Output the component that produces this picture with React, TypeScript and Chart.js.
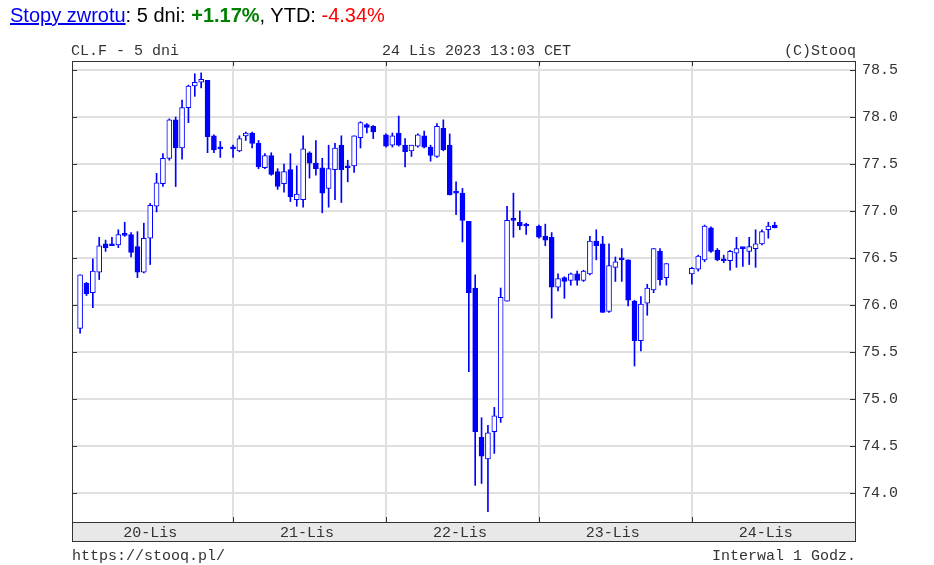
import React, { useEffect, useRef } from "react";
import { Chart, registerables } from "chart.js";

Chart.register(...registerables);

// hour index: 0 = 20-Lis 00:00 CET, 24 = 21-Lis 00:00, ...
const hours = [
  0, 1, 2, 3, 4, 5, 6, 7, 8, 9, 10, 11, 12, 13, 14, 15, 16, 17, 18, 19, 20, 21, 22,
  24, 25, 26, 27, 28, 29, 30, 31, 32, 33, 34, 35, 36, 37, 38, 39, 40, 41, 42, 43, 44, 45, 46,
  48, 49, 50, 51, 52, 53, 54, 55, 56, 57, 58, 59, 60, 61, 62, 63, 64, 65, 66, 67, 68, 69, 70,
  72, 73, 74, 75, 76, 77, 78, 79, 80, 81, 82, 83, 84, 85, 86, 87, 88, 89, 90, 91, 92,
  96, 97, 98, 99, 100, 101, 102, 103, 104, 105, 106, 107, 108, 109,
];

const opens = [
  75.75, 76.23, 76.13, 76.35, 76.65, 76.63, 76.64, 76.76, 76.75, 76.62, 76.35, 76.71, 77.05, 77.29, 77.56, 77.97, 77.67, 78.10, 78.33, 78.37, 78.39, 77.80, 77.66,
  77.66, 77.64, 77.80, 77.83, 77.72, 77.46, 77.59, 77.42, 77.29, 77.44, 77.12, 77.12, 77.62, 77.51, 77.46, 77.24, 77.44, 77.70, 77.48, 77.48, 77.78, 77.92, 77.90,
  77.81, 77.70, 77.83, 77.70, 77.64, 77.69, 77.80, 77.68, 77.58, 77.88, 77.70, 77.19, 77.19, 76.89, 76.18, 74.59, 74.36, 74.65, 74.80, 76.04, 76.90, 76.88, 76.84,
  76.84, 76.73, 76.72, 76.19, 76.29, 76.26, 76.33, 76.26, 76.33, 76.68, 76.65, 75.93, 76.40, 76.48, 76.48, 76.04, 75.62, 76.02, 76.16, 76.57, 76.29,
  76.33, 76.38, 76.48, 76.82, 76.58, 76.49, 76.47, 76.55, 76.60, 76.57, 76.60, 76.65, 76.80, 76.85,
];

const highs = [
  76.32, 76.24, 76.49, 76.72, 76.69, 76.72, 76.80, 76.88, 76.77, 76.78, 76.87, 77.08, 77.40, 77.61, 77.98, 78.00, 78.18, 78.34, 78.46, 78.47, 78.39, 77.81, 77.74,
  77.70, 77.80, 77.84, 77.84, 77.75, 77.61, 77.62, 77.45, 77.50, 77.61, 77.48, 77.80, 77.63, 77.75, 77.56, 77.70, 77.72, 77.80, 77.54, 77.80, 77.95, 77.93, 77.91,
  77.82, 77.83, 78.01, 77.77, 77.70, 77.82, 77.85, 77.70, 77.93, 77.97, 77.82, 77.31, 77.24, 76.89, 76.32, 74.80, 74.72, 74.91, 76.18, 77.05, 77.19, 77.00, 76.87,
  76.85, 76.86, 76.77, 76.33, 76.30, 76.34, 76.36, 76.37, 76.73, 76.80, 76.73, 76.65, 76.51, 76.60, 76.48, 76.05, 76.09, 76.22, 76.60, 76.60, 76.44,
  76.40, 76.53, 76.85, 76.83, 76.60, 76.53, 76.58, 76.72, 76.61, 76.72, 76.80, 76.80, 76.88, 76.88,
];

const lows = [
  75.70, 76.10, 75.97, 76.27, 76.57, 76.63, 76.61, 76.73, 76.51, 76.29, 76.34, 76.43, 76.99, 77.26, 77.54, 77.26, 77.55, 77.94, 78.22, 78.31, 77.62, 77.62, 77.57,
  77.57, 77.63, 77.75, 77.67, 77.45, 77.45, 77.38, 77.23, 77.20, 77.10, 77.05, 77.04, 77.35, 77.38, 76.98, 77.04, 77.12, 77.09, 77.31, 77.41, 77.67, 77.83, 77.77,
  77.68, 77.68, 77.69, 77.47, 77.58, 77.68, 77.67, 77.53, 77.57, 77.64, 77.17, 76.96, 76.67, 75.29, 74.08, 74.10, 73.80, 74.42, 74.75, 76.04, 76.72, 76.80, 76.75,
  76.71, 76.63, 75.86, 76.15, 76.07, 76.21, 76.21, 76.25, 76.32, 76.48, 75.92, 75.92, 76.25, 76.25, 75.99, 75.35, 75.51, 75.89, 76.13, 76.21, 76.21,
  76.22, 76.36, 76.46, 76.56, 76.47, 76.45, 76.37, 76.40, 76.41, 76.43, 76.40, 76.64, 76.71, 76.82,
];

const closes = [
  76.32, 76.12, 76.36, 76.63, 76.61, 76.63, 76.75, 76.74, 76.56, 76.35, 76.71, 77.06, 77.30, 77.56, 77.97, 77.67, 78.10, 78.33, 78.37, 78.40, 77.79, 77.65, 77.66,
  77.66, 77.77, 77.83, 77.72, 77.47, 77.59, 77.39, 77.26, 77.42, 77.15, 77.18, 77.66, 77.51, 77.45, 77.19, 77.45, 77.67, 77.44, 77.46, 77.80, 77.94, 77.89, 77.84,
  77.69, 77.80, 77.70, 77.63, 77.70, 77.81, 77.68, 77.59, 77.90, 77.65, 77.17, 77.19, 76.90, 76.13, 74.65, 74.39, 74.64, 74.82, 76.08, 76.90, 76.90, 76.84, 76.84,
  76.72, 76.69, 76.19, 76.28, 76.25, 76.33, 76.26, 76.36, 76.68, 76.63, 75.92, 76.42, 76.46, 76.48, 76.05, 75.62, 76.01, 76.18, 76.60, 76.27, 76.44,
  76.39, 76.52, 76.84, 76.57, 76.48, 76.47, 76.57, 76.60, 76.60, 76.62, 76.65, 76.78, 76.84, 76.82,
];

const yTickValues = [74.0, 74.5, 75.0, 75.5, 76.0, 76.5, 77.0, 77.5, 78.0, 78.5];
const dayStartHours = [24, 48, 72, 96];
const dayLabels = ["20-Lis", "21-Lis", "22-Lis", "23-Lis", "24-Lis"];
const dayLabelHours = [11, 35.6, 59.6, 83.6, 107.6];

const titleLeft = "CL.F - 5 dni";
const titleCenter = "24 Lis 2023 13:03 CET";
const titleRight = "(C)Stooq";
const footLeft = "https://stooq.pl/";
const footRight = "Interwal 1 Godz.";

const BLUE = "#0000ff";
const INK = "#333333";
const GRID = "#e0e0e0";
const MONO = "'Liberation Mono', 'DejaVu Sans Mono', monospace";

export default function App() {
  const ref = useRef<HTMLCanvasElement>(null);

  useEffect(() => {
    const canvas = ref.current;
    if (!canvas) return;

    const bodies = hours.map((h, i) => ({
      x: h,
      y: [Math.min(opens[i], closes[i]), Math.max(opens[i], closes[i])],
    }));
    const wicks = hours.map((h, i) => ({ x: h, y: [lows[i], highs[i]] }));
    const fills = hours.map((_, i) => (closes[i] <= opens[i] ? BLUE : "#ffffff"));

    const decor = {
      id: "decor",
      afterDraw(chart: any) {
        const { ctx, chartArea } = chart;
        const xs = chart.scales.x;
        const ys = chart.scales.y;
        const L = chartArea.left;
        const R = chartArea.right;
        const T = chartArea.top;
        const B = chartArea.bottom;
        const bandB = B + 19;
        ctx.save();
        // date band
        ctx.fillStyle = "#e8e8e8";
        ctx.fillRect(L, B, R - L, bandB - B);
        // frame
        ctx.strokeStyle = "#333333";
        ctx.lineWidth = 1;
        ctx.strokeRect(Math.round(L) + 0.5, Math.round(T) + 0.5, Math.round(R - L), Math.round(bandB - T));
        ctx.beginPath();
        ctx.moveTo(L, Math.round(B) + 0.5);
        ctx.lineTo(R, Math.round(B) + 0.5);
        ctx.stroke();
        // ticks
        ctx.beginPath();
        dayStartHours.forEach((h) => {
          const px = Math.round(xs.getPixelForValue(h)) + 0.5;
          ctx.moveTo(px, T);
          ctx.lineTo(px, T + 5);
          ctx.moveTo(px, B);
          ctx.lineTo(px, B - 5);
        });
        yTickValues.forEach((v) => {
          const py = Math.round(ys.getPixelForValue(v)) + 0.5;
          ctx.moveTo(L, py);
          ctx.lineTo(L + 5, py);
          ctx.moveTo(R, py);
          ctx.lineTo(R - 5, py);
        });
        ctx.stroke();
        // texts
        ctx.fillStyle = INK;
        ctx.font = "15px " + MONO;
        ctx.textBaseline = "alphabetic";
        ctx.textAlign = "left";
        ctx.fillText(titleLeft, 71, 55);
        ctx.fillText(titleCenter, 382, 55);
        ctx.fillText(footLeft, 72, 560);
        ctx.textAlign = "right";
        ctx.fillText(titleRight, 856, 55);
        ctx.fillText(footRight, 856, 560);
        ctx.textAlign = "center";
        dayLabels.forEach((lab, i) => {
          ctx.fillText(lab, xs.getPixelForValue(dayLabelHours[i]), 537);
        });
        ctx.restore();
      },
    };

    const chart = new Chart(canvas, {
      type: "bar",
      data: {
        datasets: [
          {
            data: bodies as any,
            backgroundColor: fills,
            borderColor: BLUE,
            borderWidth: 1,
            borderSkipped: false,
            barThickness: 5,
            minBarLength: 2,
            grouped: false,
            order: 1,
          } as any,
          {
            data: wicks as any,
            backgroundColor: BLUE,
            borderWidth: 0,
            barThickness: 1,
            grouped: false,
            order: 2,
          } as any,
        ],
      },
      options: {
        responsive: false,
        animation: false,
        events: [],
        layout: { padding: { left: 72, top: 61, right: 0, bottom: 43 } },
        plugins: { legend: { display: false }, tooltip: { enabled: false } },
        scales: {
          x: {
            type: "linear",
            min: -1.27,
            max: 121.6,
            offset: false,
            grid: { offset: false, color: GRID, lineWidth: 2, drawTicks: false },
            border: { display: false },
            ticks: { display: false },
            afterBuildTicks: (s: any) => {
              s.ticks = dayStartHours.map((v) => ({ value: v }));
            },
            afterFit: (s: any) => {
              s.height = 0;
            },
          } as any,
          y: {
            position: "right",
            min: 73.69,
            max: 78.596,
            grid: { color: GRID, lineWidth: 2, drawTicks: false },
            border: { display: false },
            ticks: {
              color: INK,
              padding: 7,
              font: { family: MONO, size: 15 },
              callback: (v: any) => Number(v).toFixed(1),
            },
            afterBuildTicks: (s: any) => {
              s.ticks = yTickValues.map((v) => ({ value: v }));
            },
            afterFit: (s: any) => {
              s.width = 79;
            },
          } as any,
        },
      },
      plugins: [decor],
    });
    return () => chart.destroy();
  }, []);

  return (
    <div style={{ position: "fixed", left: 0, top: 0, width: 934, height: 565, background: "#ffffff" }}>
      <canvas ref={ref} width={934} height={565} style={{ position: "absolute", left: 0, top: 0, width: 934, height: 565 }} />
      <div
        style={{
          position: "absolute",
          left: 10,
          top: 4,
          fontFamily: "'Liberation Sans', Arial, sans-serif",
          fontSize: 20,
          color: "#000000",
          whiteSpace: "nowrap",
        }}
      >
        <a href="#" style={{ color: "#0000ee", textDecoration: "underline" }}>
          Stopy zwrotu
        </a>
        : 5 dni: <b style={{ color: "#008000" }}>+1.17%</b>, YTD: <span style={{ color: "#ff0000" }}>-4.34%</span>
      </div>
    </div>
  );
}
